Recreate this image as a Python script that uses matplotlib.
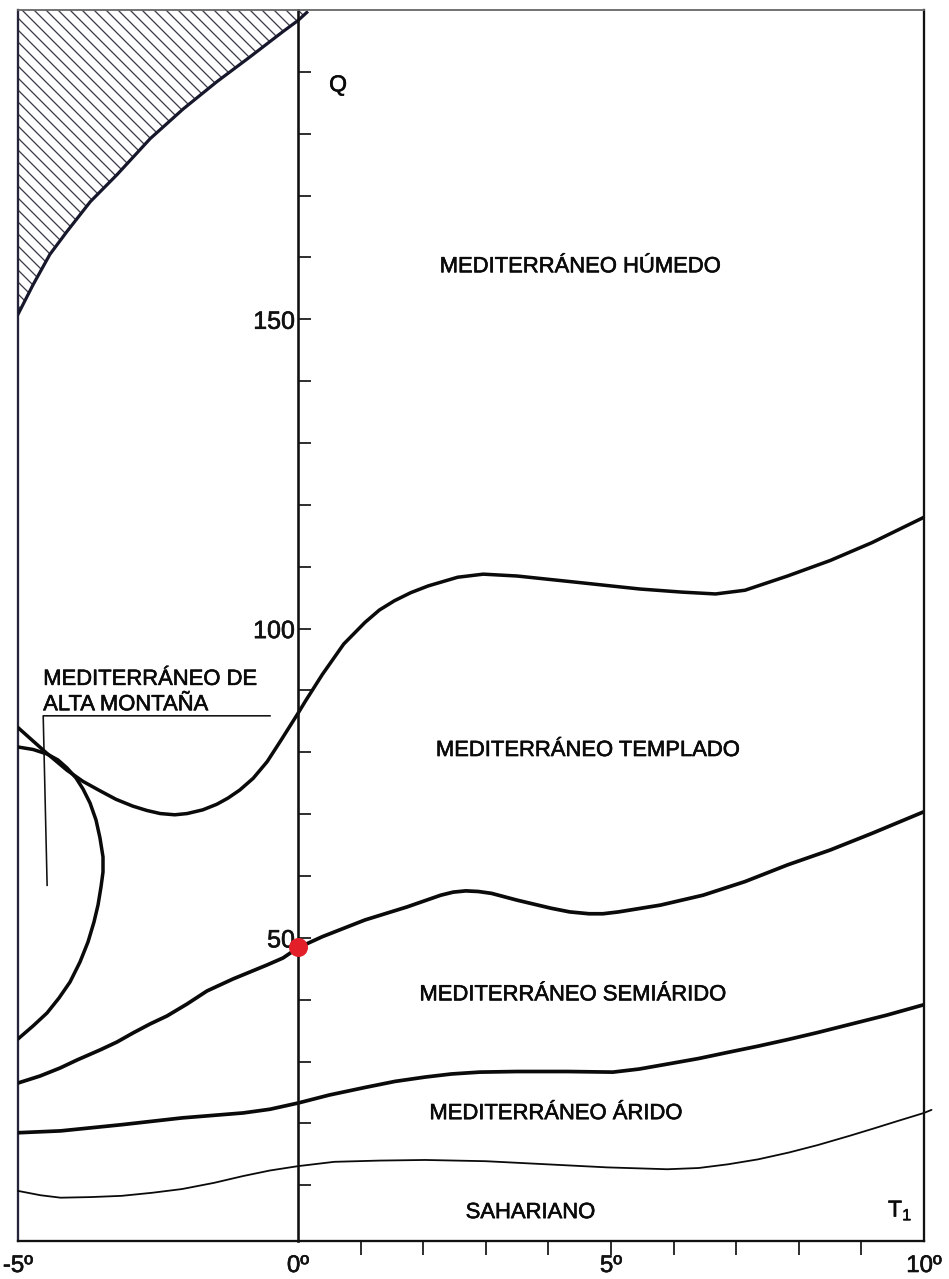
import numpy as np
import matplotlib
matplotlib.use('Agg')
import matplotlib.pyplot as plt
import matplotlib.patheffects as pe

# ---------------- data ----------------
# boundary of the hatched (upper-left) zone
hatch_T = [-5.0, -4.73, -4.43, -4.125, -3.71, -3.23, -2.64, -2.05, -1.45, -0.86, -0.27, 0.0, 0.14]
hatch_Q = [150.8, 155.6, 160.5, 164.2, 169.0, 173.4, 179.2, 184.0, 188.4, 192.4, 196.5, 198.3, 199.6]

# humid / temperate boundary
humid_T = [-5.0, -4.79, -4.48, -4.125, -3.84, -3.54, -3.25, -2.95, -2.7, -2.46, -2.2, -1.98, -1.7,
           -1.45, -1.25, -1.04, -0.8, -0.55, -0.3, 0.0, 0.12, 0.39, 0.73, 1.07, 1.3, 1.54, 1.8,
           2.08, 2.55, 2.96, 3.50, 4.44, 5.46, 6.13, 6.67, 7.14, 7.82, 8.50, 9.17, 10.0]
humid_Q = [84.0, 82.3, 79.8, 77.1, 75.3, 73.8, 72.4, 71.3, 70.6, 70.1, 69.9, 70.1, 70.7,
           71.6, 72.6, 73.9, 75.8, 78.5, 82.0, 86.3, 88.3, 92.6, 97.5, 101.0, 103.0, 104.5, 105.8,
           106.9, 108.3, 108.8, 108.5, 107.5, 106.4, 105.9, 105.6, 106.2, 108.5, 111.0, 113.9, 118.0]

# high-mountain loop
mount_T = [-5.0, -4.732, -4.482, -4.286, -4.125, -3.964, -3.839, -3.714, -3.607, -3.536, -3.482,
           -3.482, -3.518, -3.571, -3.643, -3.75, -3.893, -4.071, -4.268, -4.482, -4.732, -5.0]
mount_Q = [80.86, 80.46, 79.73, 78.76, 77.47, 75.85, 74.07, 71.81, 69.06, 66.15, 63.08,
           60.65, 58.23, 55.32, 52.57, 49.34, 46.10, 42.87, 40.28, 37.86, 35.76, 33.66]

# temperate / semi-arid boundary
temp_T = [-5.0, -4.607, -4.25, -3.946, -3.536, -3.232, -2.946, -2.643, -2.339, -1.982, -1.625,
          -1.393, -1.161, -0.857, -0.554, -0.268, 0.0, 0.39, 1.07, 1.74, 2.28, 2.48, 2.68, 2.88,
          3.09, 3.50, 4.04, 4.34, 4.65, 4.87, 5.12, 5.79, 6.47, 7.14, 7.82, 8.50, 9.17, 10.0]
temp_Q = [26.54, 27.67, 28.96, 30.26, 31.88, 33.17, 34.63, 36.08, 37.38, 39.31, 41.42,
          42.39, 43.36, 44.49, 45.62, 46.75, 48.4, 50.2, 52.9, 55.0, 56.9, 57.4, 57.6, 57.5,
          57.2, 56.1, 54.8, 54.2, 53.9, 53.9, 54.2, 55.3, 56.9, 59.1, 61.8, 64.2, 66.9, 70.4]

# semi-arid / arid boundary
semi_T = [-5.0, -4.24, -3.15, -2.07, -0.98, -0.5, 0.0, 0.5, 1.06, 1.55, 2.03, 2.45, 2.9, 3.5, 4.3,
          5.03, 5.45, 5.9, 6.4, 6.87, 7.35, 7.84, 8.3, 8.81, 9.4, 10.0]
semi_Q = [18.5, 18.8, 19.8, 20.9, 21.7, 22.3, 23.3, 24.6, 25.8, 26.8, 27.5, 28.0, 28.3, 28.4, 28.4,
          28.3, 28.8, 29.6, 30.5, 31.5, 32.5, 33.6, 34.7, 36.0, 37.5, 39.2]

# arid / saharan boundary (thin)
arid_T = [-5.0, -4.6, -4.24, -3.7, -3.15, -2.6, -2.07, -1.5, -0.98, -0.5, 0.0, 0.58, 1.3, 2.03,
          3.0, 3.97, 4.94, 5.9, 6.4, 6.87, 7.35, 7.84, 8.3, 8.81, 9.2, 9.58, 10.0, 10.12]
arid_Q = [9.1, 8.4, 8.0, 8.1, 8.3, 8.8, 9.4, 10.4, 11.5, 12.4, 13.1, 13.8, 14.0, 14.1,
          13.9, 13.4, 12.9, 12.6, 12.8, 13.4, 14.2, 15.3, 16.5, 18.0, 19.2, 20.4, 21.7, 22.2]

# station point
point_T = [0.0]
point_Q = [48.6]

# leader line of the high-mountain label
leader_T = [-0.5, -4.55, -4.48]
leader_Q = [85.9, 85.9, 58.5]

x_major = [-5, 0, 5, 10]
x_labels = ['-5º', '0º', '5º', '10º']
x_minor = [1, 2, 3, 4, 5, 6, 7, 8, 9]
y_major = [50, 100, 150]
y_labels = ['50', '100', '150']
y_minor = [10, 20, 30, 40, 60, 70, 80, 90, 110, 120, 130, 140, 160, 170, 180, 190]

# ---------------- figure ----------------
plt.rcParams['font.family'] = ['Liberation Sans', 'DejaVu Sans']
plt.rcParams['mathtext.fontset'] = 'custom'
plt.rcParams['mathtext.rm'] = 'Liberation Sans'
plt.rcParams['mathtext.it'] = 'Liberation Sans'
plt.rcParams['hatch.linewidth'] = 1.3

DPI = 72
fig = plt.figure(figsize=(949 / DPI, 1279 / DPI), dpi=DPI)
ax = fig.add_axes([18 / 949, 38 / 1279, 906 / 949, 1231 / 1279])

K = 56.0 / 62.6


def fwd(t):
    t = np.asarray(t, dtype=float)
    return np.where(t < 0, t * K, t)


def inv(u):
    u = np.asarray(u, dtype=float)
    return np.where(u < 0, u / K, u)


ax.set_xscale('function', functions=(fwd, inv))
ax.set_xlim(-5, 10)
ax.set_ylim(1, 200)

# spines / frame
ax.spines['left'].set_position(('data', 0))
ax.spines['left'].set_linewidth(2.6)
ax.spines['left'].set_color('#111111')
ax.spines['right'].set_linewidth(2.3)
ax.spines['right'].set_color('#111111')
ax.spines['bottom'].set_linewidth(2.3)
ax.spines['bottom'].set_color('#111111')
ax.spines['top'].set_linewidth(1.8)
ax.spines['top'].set_color('#666666')
ax.axvline(-5, color='#24243a', lw=2.3, clip_on=False)

bold_fx = [pe.withStroke(linewidth=0.6, foreground='#0a0a0a')]

# ticks
ax.yaxis.set_ticks_position('left')
ax.set_yticks(y_major, labels=y_labels)
ax.set_yticks(y_minor, minor=True)
ax.tick_params(axis='y', which='both', direction='in', length=13, width=2, color='#333333',
               labelsize=25, pad=3, labelcolor='#111111')

ax.xaxis.set_ticks_position('bottom')
ax.xaxis.remove_overlapping_locs = False
ax.set_xticks(x_major, labels=x_labels)
ax.set_xticks(x_minor, minor=True)
ax.tick_params(axis='x', which='major', length=0, pad=14, labelsize=24, labelcolor='#111111')
ax.tick_params(axis='x', which='minor', direction='out', length=14, width=2, color='#333333')
for t in ax.get_xticklabels() + ax.get_yticklabels():
    t.set_path_effects(bold_fx)

# hatched zone
ax.fill_between(hatch_T, hatch_Q, 200, facecolor='none', edgecolor='#3c3c4a',
                hatch='\\\\', linewidth=0)
ax.plot(hatch_T, hatch_Q, color='#17172c', lw=3.2)

# boundaries
style = dict(color='#0a0a0a', solid_capstyle='round', solid_joinstyle='round')
ax.plot(humid_T, humid_Q, lw=3.5, **style)
ax.plot(mount_T, mount_Q, lw=3.5, **style)
ax.plot(temp_T, temp_Q, lw=3.7, **style)
ax.plot(semi_T, semi_Q, lw=3.7, **style)
ax.plot(arid_T, arid_Q, lw=1.8, clip_on=False, **style)

# station point
ax.plot(point_T, point_Q, 'o', ms=19, color='#e3202a', mec='none', zorder=6, clip_on=False)

# leader line
ax.plot(leader_T, leader_Q, color='#111111', lw=1.6)

# labels
lab = dict(fontsize=22, color='#0a0a0a', ha='center', va='baseline', path_effects=bold_fx)
ax.text(4.50, 157.6, 'MEDITERRÁNEO HÚMEDO', **lab)
ax.text(4.62, 79.4, 'MEDITERRÁNEO TEMPLADO', **lab)
ax.text(4.38, 39.9, 'MEDITERRÁNEO SEMIÁRIDO', **lab)
ax.text(4.11, 20.7, 'MEDITERRÁNEO ÁRIDO', **lab)
ax.text(3.71, 4.7, 'SAHARIANO', **lab)
ax.text(-4.55, 90.9, 'MEDITERRÁNEO DE', fontsize=22, color='#0a0a0a', ha='left', va='baseline',
        path_effects=bold_fx)
ax.text(-4.55, 86.8, 'ALTA MONTAÑA', fontsize=22, color='#0a0a0a', ha='left', va='baseline',
        path_effects=bold_fx)
ax.text(0.64, 187.9, 'Q', fontsize=23, color='#0a0a0a', ha='center', va='center',
        path_effects=bold_fx)
ax.text(9.62, 6.0, r'$\mathrm{T}_{1}$', fontsize=23, color='#0a0a0a', ha='center', va='center',
        path_effects=bold_fx)

fig.savefig('out.png', dpi=DPI)
